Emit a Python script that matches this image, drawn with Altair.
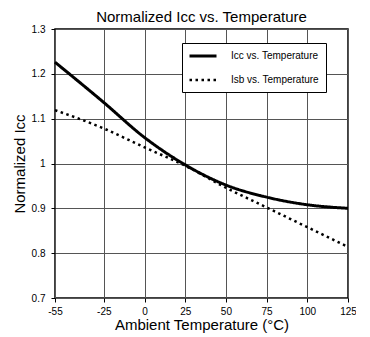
import altair as alt
import pandas as pd

temps = [-55, -25, 0, 25, 50, 75, 100, 125]
icc = [1.226, 1.136, 1.058, 0.997, 0.952, 0.925, 0.908, 0.900]
isb = [1.119, 1.078, 1.036, 0.995, 0.946, 0.902, 0.858, 0.814]
series_names = ["Icc vs. Temperature", "Isb vs. Temperature"]
x_ticks = [-55, -25, 0, 25, 50, 75, 100, 125]
y_ticks = [0.7, 0.8, 0.9, 1.0, 1.1, 1.2, 1.3]

rows = []
for t, a, b in zip(temps, icc, isb):
    rows.append({"temp": t, "value": a, "series": series_names[0]})
    rows.append({"temp": t, "value": b, "series": series_names[1]})
df = pd.DataFrame(rows)

FONT = "Liberation Sans"

chart = alt.Chart(df).mark_line(interpolate="monotone", color="black").encode(
    x=alt.X("temp:Q",
            scale=alt.Scale(domain=[-55, 125], nice=False, zero=False),
            axis=alt.Axis(values=x_ticks, title="Ambient Temperature (°C)",
                          labelExpr="'' + datum.value")),
    y=alt.Y("value:Q",
            scale=alt.Scale(domain=[0.7, 1.3], nice=False, zero=False),
            axis=alt.Axis(values=y_ticks, title="Normalized Icc", format=".1~f")),
    strokeDash=alt.StrokeDash("series:N",
            scale=alt.Scale(domain=series_names, range=[[1, 0], [2.5, 3.5]]),
            legend=alt.Legend(title=None)),
    strokeWidth=alt.StrokeWidth("series:N",
            scale=alt.Scale(domain=series_names, range=[3, 2.5]),
            legend=alt.Legend(title=None)),
).properties(
    width=293,
    height=269,
    autosize=alt.AutoSizeParams(type="none"),
    padding={"left": 47, "top": 21, "right": 8, "bottom": 35},
    title=alt.TitleParams("Normalized Icc vs. Temperature", fontSize=15,
                          font=FONT, fontWeight="normal", anchor="middle",
                          offset=-1, color="black"),
).configure_view(
    stroke="black", strokeWidth=1.5
).configure_axis(
    labelFont=FONT, titleFont=FONT, labelFontSize=10, titleFontSize=15,
    titleFontWeight="normal", labelColor="black", titleColor="black",
    grid=True, gridColor="#555555", gridWidth=1, gridOpacity=1,
    domain=False, tickColor="black", tickSize=4, labelPadding=6,
    labelFlush=False,
).configure_axisY(titlePadding=4).configure_axisX(
    titlePadding=1, labelPadding=4
).configure_legend(
    orient="none", legendX=127, legendY=14,
    fillColor="white", strokeColor="black", strokeWidth=1,
    padding=7, symbolType="M-3,0L3,0", symbolSize=81, symbolOffset=8,
    symbolStrokeColor="black", symbolFillColor="transparent",
    labelFont=FONT, labelFontSize=10, labelColor="black", labelOffset=22,
    rowPadding=12, labelLimit=300,
)

chart.save("out.html", embed_options={"renderer": "svg", "actions": False})
